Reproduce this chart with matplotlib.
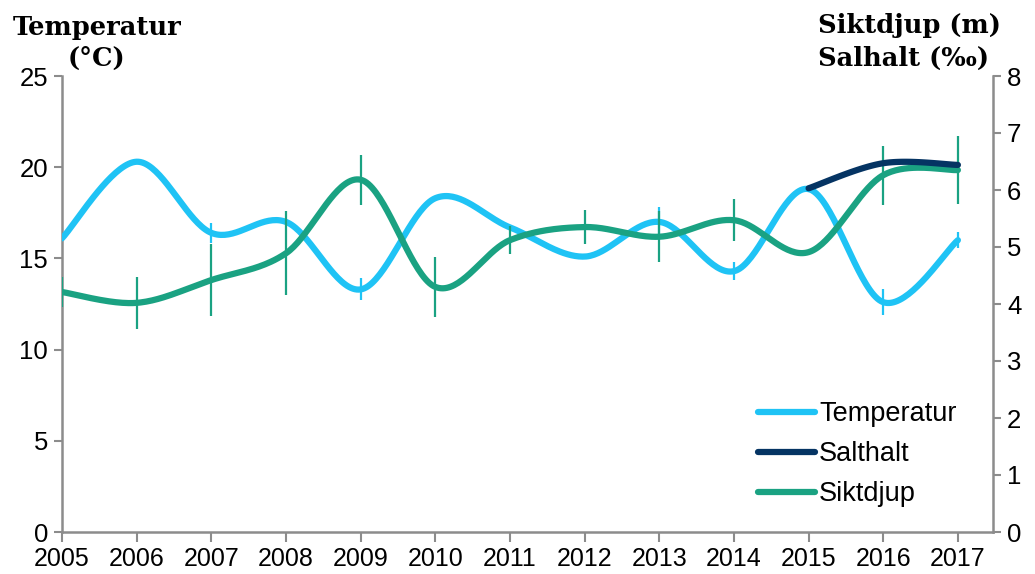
import numpy as np
import matplotlib.pyplot as plt

years = np.arange(2005, 2018)

# Temperatur (°C), vänster axel
temperatur = [16.1, 20.3, 16.4, 17.0, 13.3, 18.3, 16.7, 15.1, 17.0, 14.3, 18.8, 12.6, 16.0]
temperatur_err = [0, 0, 0.55, 0, 0.6, 0, 0, 0, 0.8, 0.5, 0, 0.7, 0.45]

# Siktdjup (m), höger axel
siktdjup = [4.21, 4.02, 4.42, 4.89, 6.18, 4.30, 5.12, 5.35, 5.18, 5.47, 4.91, 6.26, 6.35]
siktdjup_err = [0.27, 0.45, 0.63, 0.74, 0.44, 0.52, 0.25, 0.30, 0.45, 0.37, 0, 0.52, 0.59]

# Salthalt (‰), höger axel, bara 2015-2017
salt_years = np.arange(2015, 2018)
salthalt = [6.03, 6.47, 6.44]

c_temp = '#1FC3F5'
c_salt = '#053463'
c_sikt = '#1AA282'
c_axis = '#8C8C8C'


def smooth(x, y, n=40):
    # Catmull-Rom kurva genom punkterna (som Excels utjämnade linjer)
    x = np.asarray(x, float)
    y = np.asarray(y, float)
    px = np.concatenate([[x[0]], x, [x[-1]]])
    py = np.concatenate([[y[0]], y, [y[-1]]])
    xs, ys = [], []
    t = np.linspace(0, 1, n)
    for i in range(1, len(px) - 2):
        p0, p1, p2, p3 = (np.array([px[j], py[j]]) for j in range(i - 1, i + 3))
        c1 = p1 + (p2 - p0) / 6
        c2 = p2 - (p3 - p1) / 6
        b = ((1 - t) ** 3)[:, None] * p1 + (3 * (1 - t) ** 2 * t)[:, None] * c1 \
            + (3 * (1 - t) * t ** 2)[:, None] * c2 + (t ** 3)[:, None] * p2
        xs.append(b[:, 0])
        ys.append(b[:, 1])
    return np.concatenate(xs), np.concatenate(ys)


fig = plt.figure(figsize=(10.35, 5.74), dpi=100)
ax = fig.add_axes([62 / 1035, 1 - 532 / 574, 931 / 1035, 456 / 574])
ax2 = ax.twinx()

# temperatur
ax.errorbar(years, temperatur, yerr=temperatur_err, fmt='none', ecolor=c_temp,
            elinewidth=1.6, capsize=0, zorder=2)
sx, sy = smooth(years, temperatur)
ax.plot(sx, sy, color=c_temp, lw=4.5, solid_capstyle='round', zorder=3)

# siktdjup och salthalt
ax2.errorbar(years, siktdjup, yerr=siktdjup_err, fmt='none', ecolor=c_sikt,
             elinewidth=1.6, capsize=0, zorder=2)
sx, sy = smooth(years, siktdjup)
ax2.plot(sx, sy, color=c_sikt, lw=4.5, solid_capstyle='round', zorder=3)
sx, sy = smooth(salt_years, salthalt)
ax2.plot(sx, sy, color=c_salt, lw=4.5, solid_capstyle='round', zorder=4)

ax.set_xlim(2005, 2017.47)
ax.set_ylim(0, 25)
ax2.set_ylim(0, 8)
ax.set_yticks(range(0, 26, 5))
ax2.set_yticks(range(0, 9))
ax.set_xticks(years)
ax.set_xticklabels([str(y) for y in years], fontsize=18, family='Liberation Sans')

for a in (ax, ax2):
    for s in a.spines.values():
        s.set_visible(False)
    a.tick_params(colors=c_axis, width=1.5, length=6, labelcolor='black')
    a.tick_params(axis='y', labelsize=18.5, pad=4)
    for lab in a.get_yticklabels():
        lab.set_family('Liberation Sans')
ax.spines['left'].set_visible(True)
ax.spines['bottom'].set_visible(True)
ax2.spines['right'].set_visible(True)
for s in (ax.spines['left'], ax.spines['bottom'], ax2.spines['right']):
    s.set_color(c_axis)
    s.set_linewidth(1.8)
ax.tick_params(axis='x', length=7, pad=3.5)

# axeltitlar
title_kw = dict(family='DejaVu Serif', weight='bold', fontsize=18.5, va='center')
fig.text(97 / 1035, 1 - 28 / 574, 'Temperatur', ha='center', **title_kw)
fig.text(97 / 1035, 1 - 58 / 574, '(°C)', ha='center', **title_kw)
fig.text(818 / 1035, 1 - 26 / 574, 'Siktdjup (m)', ha='left', **title_kw)
fig.text(818 / 1035, 1 - 58 / 574, 'Salhalt (‰)', ha='left', **title_kw)

# förklaring
handles = [plt.Line2D([], [], color=c, lw=4.5, solid_capstyle='round')
           for c in (c_temp, c_salt, c_sikt)]
fig.legend(handles, ['Temperatur', 'Salthalt', 'Siktdjup'], loc='upper left',
           bbox_to_anchor=(758 / 1035, 1 - 401 / 574), frameon=False,
           prop={'family': 'Liberation Sans', 'size': 19.5}, handlelength=2.1,
           handletextpad=0.15, labelspacing=0.52, borderaxespad=0, borderpad=0)

fig.savefig('out.png', dpi=100)
